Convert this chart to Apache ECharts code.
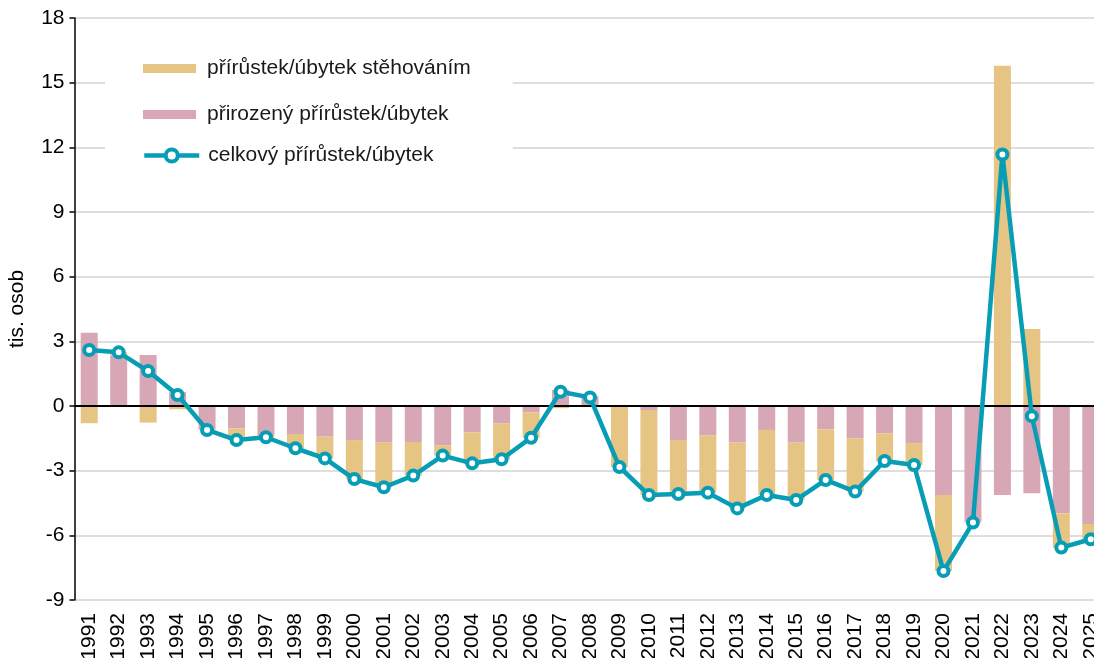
<!DOCTYPE html>
<html>
<head>
<meta charset="utf-8">
<script src="https://cdn.jsdelivr.net/npm/echarts@6/dist/echarts.min.js"></script>
<style>
  html, body { margin: 0; padding: 0; background: #fff; }
  #chart { width: 1094px; height: 658px; }
</style>
</head>
<body>
<div id="chart"></div>
<script>
// roky
const years = ['1991', '1992', '1993', '1994', '1995', '1996', '1997', '1998', '1999', '2000',
  '2001', '2002', '2003', '2004', '2005', '2006', '2007', '2008', '2009', '2010',
  '2011', '2012', '2013', '2014', '2015', '2016', '2017', '2018', '2019', '2020',
  '2021', '2022', '2023', '2024', '2025']

// přirozený přírůstek/úbytek (tis. osob)
const natural = [3.40, 2.35, 2.37, 0.65, -1.10, -1.04, -1.35, -1.30, -1.42, -1.58,
  -1.70, -1.67, -1.82, -1.22, -0.80, -0.29, 0.75, 0.45, -0.03, -0.19,
  -1.58, -1.36, -1.70, -1.11, -1.70, -1.08, -1.50, -1.27, -1.72, -4.13,
  -5.35, -4.13, -4.05, -4.98, -5.47]

// přírůstek/úbytek stěhováním (tis. osob)
const migration = [-0.80, 0.14, -0.77, -0.15, 0.00, -0.54, -0.10, -0.66, -1.01, -1.81,
  -2.07, -1.56, -0.48, -1.44, -1.67, -1.18, -0.10, -0.05, -2.80, -3.94,
  -2.50, -2.66, -3.05, -3.02, -2.66, -2.35, -2.47, -1.28, -1.02, -3.53,
  -0.06, 15.78, 3.57, -1.59, -0.71]

// celkový přírůstek/úbytek (tis. osob)
const total = [2.60, 2.49, 1.62, 0.51, -1.11, -1.58, -1.45, -1.96, -2.43, -3.39,
  -3.77, -3.23, -2.30, -2.66, -2.47, -1.47, 0.66, 0.40, -2.83, -4.13,
  -4.08, -4.02, -4.75, -4.13, -4.36, -3.43, -3.97, -2.55, -2.74, -7.66,
  -5.41, 11.67, -0.47, -6.57, -6.18]

const yTicks = { min: -9, max: 18, interval: 3 }

const colors = {
  migration: '#E6C483',
  natural: '#D8A7B6',
  total: '#079DB5',
  grid: '#d3d3d3',
  text: '#000'
}

const labels = {
  migration: 'přírůstek/úbytek stěhováním',
  natural: 'přirozený přírůstek/úbytek',
  total: 'celkový přírůstek/úbytek'
}

const font = 'Liberation Sans, Arial, sans-serif'
const fontSize = 21

const chart = echarts.init(document.getElementById('chart'), null, { renderer: 'canvas' })

chart.setOption({
  animation: false,
  textStyle: { fontFamily: font },
  // grid runs past the right edge, the last year is cut like in the source
  grid: { left: 74.5, width: 1031, top: 18, bottom: 58, containLabel: false, outerBoundsMode: 'none' },
  legend: [
    {
      // bar items; the white box also hides the gridlines behind the line item
      orient: 'vertical',
      left: 105,
      top: 40,
      padding: [18, 42, 52, 38],
      backgroundColor: '#fff',
      itemGap: 25,
      itemWidth: 53,
      itemHeight: 9,
      textStyle: { fontSize, color: '#1a1a1a', fontFamily: font, padding: [0, 0, 0, 6] },
      data: [
        { name: labels.migration, icon: 'rect' },
        { name: labels.natural, icon: 'rect' }
      ]
    },
    {
      orient: 'vertical',
      left: 142,
      top: 145,
      padding: 0,
      itemWidth: 55,
      itemHeight: 15,
      textStyle: { fontSize, color: '#1a1a1a', fontFamily: font, padding: [0, 0, 0, 4] },
      data: [
        {
          name: labels.total,
          lineStyle: { color: colors.total, width: 4.5 },
          itemStyle: { color: '#fff', borderColor: colors.total, borderWidth: 4 }
        }
      ]
    }
  ],
  xAxis: {
    type: 'category',
    data: years,
    position: 'bottom',
    axisLine: { show: false, onZero: false },
    axisTick: { show: false },
    axisLabel: { rotate: 90, fontSize, color: colors.text, margin: 13, interval: 0 },
    splitLine: { show: false }
  },
  yAxis: {
    type: 'value',
    min: yTicks.min,
    max: yTicks.max,
    interval: yTicks.interval,
    name: 'tis. osob',
    nameLocation: 'middle',
    nameGap: 47,
    nameTextStyle: { fontSize, color: colors.text },
    axisLine: { show: true, onZero: false, lineStyle: { color: '#000', width: 1.5 } },
    axisTick: { show: true, length: 5, lineStyle: { color: '#000', width: 1.5 } },
    axisLabel: { fontSize, color: colors.text, margin: 10 },
    splitLine: { show: true, lineStyle: { color: colors.grid, width: 1.5 } }
  },
  series: [
    {
      name: labels.natural,
      type: 'bar',
      stack: 'pohyb',
      barWidth: 17,
      itemStyle: { color: colors.natural },
      data: natural,
      z: 2
    },
    {
      name: labels.migration,
      type: 'bar',
      stack: 'pohyb',
      barWidth: 17,
      itemStyle: { color: colors.migration },
      data: migration,
      z: 2,
      markLine: {
        silent: true,
        symbol: 'none',
        label: { show: false },
        lineStyle: { color: '#000', width: 2, type: 'solid' },
        data: [{ yAxis: 0 }],
        z: 3
      }
    },
    {
      name: labels.total,
      type: 'line',
      data: total,
      symbol: 'circle',
      symbolSize: 10,
      showAllSymbol: true,
      lineStyle: { color: colors.total, width: 4.5 },
      itemStyle: { color: '#fff', borderColor: colors.total, borderWidth: 4 },
      z: 5
    }
  ]
})
</script>
</body>
</html>
